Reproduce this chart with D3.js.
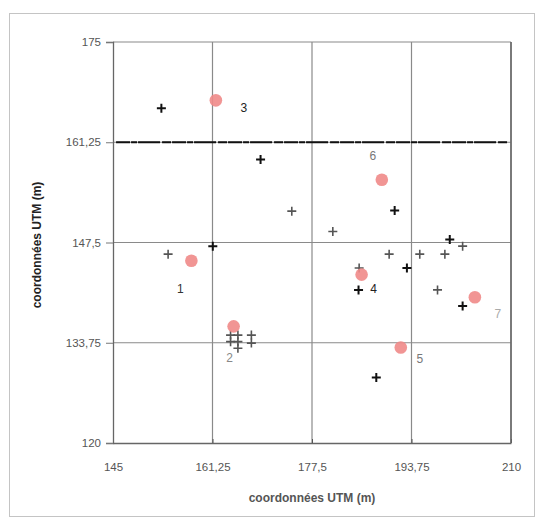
<!DOCTYPE html>
<html lang="fr">
<head>
<meta charset="UTF-8">
<title>coordonnées UTM</title>
<style>
  body { margin: 0; background: #fff; }
  svg text { font-family: "Liberation Sans", Arial, sans-serif; }
</style>
</head>
<body>
<svg id="svg" width="543" height="524"></svg>
<script src="https://d3js.org/d3.v7.min.js"></script>
<script>
  // stations (red dots)
  const stationIds = ['1', '2', '3', '4', '5', '6', '7']
  const stationX = [157.8, 164.7, 161.8, 185.6, 192.0, 188.9, 204.1]
  const stationY = [145.0, 136.0, 167.0, 143.1, 133.1, 156.1, 140.0]

  // black crosses
  const blackX = [152.9, 169.1, 191.0, 200.0, 193.0, 185.1, 202.1, 188.0, 161.3]
  const blackY = [165.9, 158.9, 151.9, 147.9, 144.0, 141.0, 138.8, 129.0, 147.0]

  // grey crosses
  const greyX = [174.2, 180.9, 202.1, 190.1, 195.1, 199.2, 185.2, 198.0, 154.0,
                 164.2, 165.4, 167.6, 164.2, 165.4, 167.6, 165.4]
  const greyY = [151.8, 149.0, 147.0, 145.9, 145.9, 145.9, 144.0, 141.0, 145.9,
                 134.8, 134.8, 134.8, 133.9, 133.9, 133.7, 133.0]

  const xTicks = [145, 161.25, 177.5, 193.75, 210]
  const yTicks = [120, 133.75, 147.5, 161.25, 175]

  const fmt = d => String(d).replace('.', ',')

  const svg = d3.select('#svg')

  // outer frame
  svg.append('rect')
    .attr('x', 9.5).attr('y', 13.5)
    .attr('width', 525).attr('height', 503)
    .attr('fill', 'none').attr('stroke', '#c4c4c4')

  const xScale = d3.scaleLinear().domain([145, 210]).range([113, 511])
  const yScale = d3.scaleLinear().domain([120, 175]).range([443, 42])

  // grid
  svg.append('g').selectAll('line')
    .data(xTicks.slice(1))
    .enter().append('line')
    .attr('x1', d => xScale(d)).attr('x2', d => xScale(d))
    .attr('y1', yScale(175)).attr('y2', yScale(120))
    .attr('stroke', '#8a8a8a').attr('stroke-width', 1.2)

  svg.append('g').selectAll('line')
    .data(yTicks.slice(1))
    .enter().append('line')
    .attr('x1', xScale(145)).attr('x2', xScale(210))
    .attr('y1', d => yScale(d)).attr('y2', d => yScale(d))
    .attr('stroke', '#8a8a8a').attr('stroke-width', 1.2)

  // the scanned 161,25 line comes out thick and broken
  svg.append('line')
    .attr('x1', xScale(145.5)).attr('x2', xScale(209.5))
    .attr('y1', yScale(161.25)).attr('y2', yScale(161.25))
    .attr('stroke', '#111').attr('stroke-width', 2)
    .attr('stroke-dasharray', '14 1 6 1 22 2 9 1')

  // axes
  const xAxis = svg.append('g')
    .attr('transform', `translate(0,${yScale(120)})`)
    .call(d3.axisBottom(xScale).tickValues(xTicks).tickFormat(fmt).tickSize(0).tickPadding(20))
  const yAxis = svg.append('g')
    .attr('transform', `translate(${xScale(145)},0)`)
    .call(d3.axisLeft(yScale).tickValues(yTicks).tickFormat(fmt).tickSize(7).tickPadding(5))

  ;[xAxis, yAxis].forEach(g => {
    g.select('.domain').attr('stroke', '#666').attr('stroke-width', 1.3)
    g.selectAll('.tick line').attr('stroke', '#777')
    g.selectAll('text').attr('fill', '#555').style('font-size', '11.5px')
  })
  xAxis.selectAll('.tick line').attr('y2', 0)
  xAxis.selectAll('.tick').append('line').attr('y1', -4).attr('y2', 0).attr('stroke', '#555')

  // right border of plot
  svg.append('line')
    .attr('x1', xScale(210)).attr('x2', xScale(210))
    .attr('y1', yScale(175)).attr('y2', yScale(120))
    .attr('stroke', '#666').attr('stroke-width', 1.5)

  // crosses
  function drawCrosses(xs, ys, color, w) {
    svg.append('g').selectAll('path')
      .data(xs.map((x, i) => [x, ys[i]]))
      .enter().append('path')
      .attr('d', 'M-4.5,0H4.5M0,-4.5V4.5')
      .attr('transform', d => `translate(${xScale(d[0])},${yScale(d[1])})`)
      .attr('stroke', color).attr('stroke-width', w)
  }
  drawCrosses(greyX, greyY, '#555', 1.6)
  drawCrosses(blackX, blackY, '#111', 2)

  // stations
  const stations = stationIds.map((id, i) => ({ id, x: stationX[i], y: stationY[i] }))
  svg.append('g').selectAll('circle')
    .data(stations)
    .enter().append('circle')
    .attr('cx', d => xScale(d.x))
    .attr('cy', d => yScale(d.y))
    .attr('r', 6.3)
    .attr('fill', '#f08a88')
    .attr('opacity', 0.9)

  // label placement around each dot
  const labelDx = [-11, -4, 28, 12, 19, -9, 23]
  const labelDy = [28, 31, 7, 14, 11, -24, 17]
  const labelColor = ['#333', '#888', '#222', '#222', '#777', '#777', '#aaa']

  svg.append('g').selectAll('text')
    .data(stations)
    .enter().append('text')
    .attr('x', (d, i) => xScale(d.x) + labelDx[i])
    .attr('y', (d, i) => yScale(d.y) + labelDy[i])
    .attr('dy', '0.35em')
    .attr('text-anchor', 'middle')
    .attr('fill', (d, i) => labelColor[i])
    .style('font-size', '12px')
    .text(d => d.id)

  // axis titles
  svg.append('text')
    .attr('x', 312).attr('y', 502)
    .attr('text-anchor', 'middle')
    .attr('fill', '#555')
    .style('font-size', '12px').style('font-weight', 'bold')
    .text('coordonnées UTM (m)')

  svg.append('text')
    .attr('transform', 'translate(41,245) rotate(-90)')
    .attr('text-anchor', 'middle')
    .attr('fill', '#222')
    .style('font-size', '12px').style('font-weight', 'bold')
    .text('coordonnées UTM (m)')
</script>
</body>
</html>
